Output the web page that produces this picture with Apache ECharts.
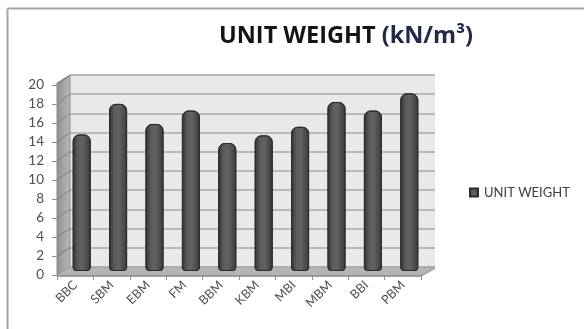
<!DOCTYPE html>
<html>
<head>
<meta charset="utf-8">
<script src="https://cdn.jsdelivr.net/npm/echarts@6/dist/echarts.min.js"></script>
<style>
  html, body { margin: 0; padding: 0; background: #ffffff; }
  #chart { width: 584px; height: 329px; }
</style>
</head>
<body>
<div id="chart"></div>
<script>
// Unit weight of each masonry unit type, kN/m3
const categories = ['BBC', 'SBM', 'EBM', 'FM', 'BBM', 'KBM', 'MBI', 'MBM', 'BBI', 'PBM'];
const unitWeight = [14.3, 17.5, 15.4, 16.8, 13.4, 14.2, 15.1, 17.7, 16.8, 18.6];
const yTickValues = [0, 2, 4, 6, 8, 10, 12, 14, 16, 18, 20];
const seriesName = 'UNIT WEIGHT';

const Y_MIN = yTickValues[0];
const Y_MAX = yTickValues[yTickValues.length - 1];
const Y_STEP = yTickValues[1] - yTickValues[0];

// Pseudo-3D box: back wall, front (labelled) axis plane, and the mid plane the columns stand in
const back  = { left: 70,   top: 75, width: 365, height: 192 };
const front = { left: 57,   top: 85, width: 364, height: 190 };
const mid   = { left: 63.5, top: 80, width: 364, height: 191 };

const FONT = 'Lato, "Open Sans", "DejaVu Sans", sans-serif';
const TITLE_FONT = '"Open Sans", Lato, "DejaVu Sans", sans-serif';

const chart = echarts.init(document.getElementById('chart'), null, { renderer: 'canvas' });

function yOn(rect, v) {
  return rect.top + rect.height * (1 - (v - Y_MIN) / (Y_MAX - Y_MIN));
}

// Side wall, floor and the wall-to-wall grid lines
const decor = [];
const fb = front.top + front.height, bb = back.top + back.height;
decor.push({
  type: 'polygon', z: 1, silent: true,
  shape: { points: [[front.left, front.top - 2], [back.left, back.top], [back.left, bb], [front.left, fb]] },
  style: {
    fill: new echarts.graphic.LinearGradient(0, 0, 1, 0, [
      { offset: 0, color: '#8f8f8f' }, { offset: 1, color: '#b9b9b9' }
    ]),
    stroke: '#8a8a8a', lineWidth: 1
  }
});
yTickValues.forEach(function (v) {
  decor.push({
    type: 'line', z: 1, silent: true,
    shape: { x1: front.left, y1: yOn(front, v), x2: back.left, y2: yOn(back, v) },
    style: { stroke: '#7d7d7d', lineWidth: 1 }
  });
});
decor.push({
  type: 'polygon', z: 1, silent: true,
  shape: { points: [[front.left, fb], [back.left, bb], [back.left + back.width, bb], [front.left + front.width, fb]] },
  style: { fill: '#b4b4b4', stroke: '#a2a2a2', lineWidth: 1 }
});
decor.push({
  type: 'polygon', z: 1, silent: true,
  shape: { points: [[front.left, fb], [front.left + front.width, fb], [front.left + front.width, fb + 2], [front.left, fb + 2]] },
  style: { fill: '#9c9c9c' }
});
decor.push({
  type: 'polygon', z: 1, silent: true,
  shape: { points: [[front.left + front.width, fb], [back.left + back.width, bb], [back.left + back.width, bb + 2], [front.left + front.width, fb + 2]] },
  style: { fill: '#a8a8a8' }
});
// Chart area frame (top and left edges)
decor.push({ type: 'line', z: 5, silent: true, shape: { x1: 7.5, y1: 8.5, x2: 584, y2: 8.5 }, style: { stroke: '#a3a3a3', lineWidth: 2 } });
decor.push({ type: 'line', z: 5, silent: true, shape: { x1: 7.5, y1: 8.5, x2: 7.5, y2: 329 }, style: { stroke: '#a3a3a3', lineWidth: 2 } });
// Title
decor.push({
  type: 'text', z: 5, silent: true,
  style: {
    x: 346, y: 36, align: 'center', verticalAlign: 'middle',
    text: '{a|UNIT WEIGHT }{b|(kN/m³)}',
    rich: {
      a: { fontFamily: TITLE_FONT, fontWeight: 'bold', fontSize: 23.5, fill: '#141414' },
      b: { fontFamily: TITLE_FONT, fontWeight: 'bold', fontSize: 23.5, fill: '#222a48' }
    }
  }
});

const option = {
  animation: false,
  backgroundColor: '#ffffff',
  textStyle: { fontFamily: FONT },
  legend: {
    data: [seriesName],
    left: 469, top: 186,
    icon: 'rect', itemWidth: 8, itemHeight: 8, padding: 0, itemGap: 4,
    textStyle: { fontFamily: FONT, fontSize: 13, color: '#404040', padding: [0, 0, 0, 1] }
  },
  grid: [
    Object.assign({ show: true, backgroundColor: '#e9e9e9', borderWidth: 0 }, back),
    Object.assign({ show: false }, front),
    Object.assign({ show: false }, mid)
  ],
  xAxis: [
    { gridIndex: 0, type: 'category', data: categories, show: false },
    {
      gridIndex: 1, type: 'category', data: categories,
      axisLine: { show: true, lineStyle: { color: '#9a9a9a', width: 1 } },
      axisTick: { show: true, length: 5, lineStyle: { color: '#8c8c8c' } },
      axisLabel: { rotate: 45, margin: 8, fontSize: 12.5, color: '#505050', fontFamily: FONT },
      splitLine: { show: false }, z: 6
    },
    { gridIndex: 2, type: 'category', data: categories, show: false }
  ],
  yAxis: [
    {
      gridIndex: 0, type: 'value', min: Y_MIN, max: Y_MAX, interval: Y_STEP,
      axisLine: { show: false }, axisTick: { show: false }, axisLabel: { show: false },
      splitLine: { show: true, lineStyle: { color: '#a9a9a9', width: 1.5 } }
    },
    {
      gridIndex: 1, type: 'value', min: Y_MIN, max: Y_MAX, interval: Y_STEP,
      axisLine: { show: true, lineStyle: { color: '#8c8c8c', width: 1 } },
      axisTick: { show: true, length: 5, lineStyle: { color: '#8c8c8c' } },
      axisLabel: { margin: 13, fontSize: 13.5, color: '#505050', fontFamily: FONT },
      splitLine: { show: false }, z: 6
    },
    { gridIndex: 2, type: 'value', min: Y_MIN, max: Y_MAX, interval: Y_STEP, show: false, splitLine: { show: false } }
  ],
  series: [{
    name: seriesName,
    type: 'bar',
    xAxisIndex: 2, yAxisIndex: 2,
    data: unitWeight,
    barWidth: 18,
    z: 3,
    itemStyle: {
      color: new echarts.graphic.LinearGradient(0, 0, 1, 0, [
        { offset: 0, color: '#333333' },
        { offset: 0.3, color: '#5c5c5c' },
        { offset: 0.55, color: '#626262' },
        { offset: 1, color: '#3a3a3a' }
      ]),
      borderColor: '#2b2b2b', borderWidth: 1,
      borderRadius: [6, 6, 3, 3]
    }
  }],
  graphic: decor
};

chart.setOption(option);
// Legend swatch in flat dark gray
chart.setOption({ series: [{ name: seriesName, color: '#4a4a4a' }] });
</script>
</body>
</html>
